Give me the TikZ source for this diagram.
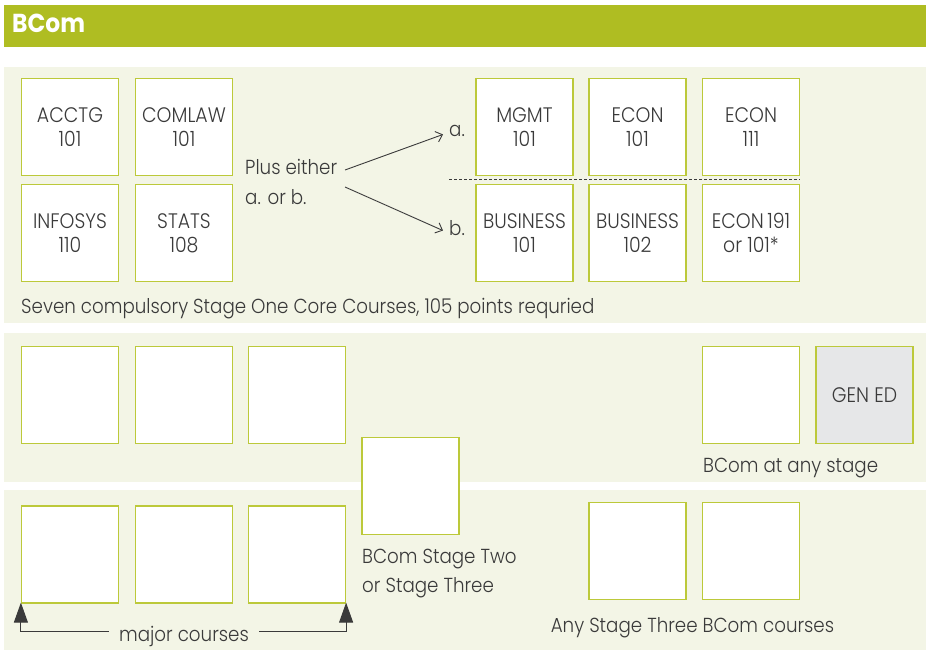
\documentclass[tikz,border=0pt]{standalone}
\usepackage{fontspec}
\setmainfont{Poppins}[UprightFont=* Light, BoldFont=* Bold, FakeStretch=0.9]
\usetikzlibrary{arrows.meta,positioning}
\definecolor{hdr}{HTML}{AFBD22}
\definecolor{pnl}{HTML}{F3F5E6}
\definecolor{bdr}{HTML}{BCC93A}
\definecolor{txt}{HTML}{3A3A3A}
\definecolor{gen}{HTML}{E6E7E8}
\tikzset{
  course/.style={draw=bdr, line width=1.2pt, fill=white, minimum width=97pt, minimum height=97pt, inner sep=0pt, align=center, text=txt, font=\fontsize{21}{24}\selectfont},
  lbl/.style={text=txt, font=\fontsize{20.3}{29}\selectfont, inner sep=0pt, align=left},
  panel/.style={fill=pnl, draw=none},
  majorarrow/.style={draw=txt, line width=1pt, -{Triangle[length=20pt,width=14pt]}}
}
\begin{document}
\begin{tikzpicture}[x=1pt,y=-1pt]
\useasboundingbox (0,0) rectangle (926,650);
\fill[white] (0,0) rectangle (926,650);
% header
\fill[hdr] (4,5) rectangle (926,47);
\node[anchor=base west, inner sep=0pt, text=white, font=\fontsize{26}{30}\selectfont\bfseries] (title) at (12,33) {BCom};
% panels
\fill[panel] (4,67) rectangle (926,323);
\fill[panel] (4,333) rectangle (926,482);
\fill[panel] (4,490) rectangle (926,650);
% panel 1
\node[course] (acctg) at (70,127) {ACCTG\\101};
\node[course] (comlaw) at (184,127) {COMLAW\\101};
\node[course] (infosys) at (70,233) {INFOSYS\\110};
\node[course] (stats) at (184,233) {STATS\\108};
\node[course] (mgmt) at (524.5,127) {MGMT\\101};
\node[course] (econa) at (637.5,127) {ECON\\101};
\node[course] (econb) at (751,127) {ECON\\111};
\node[course] (bus1) at (524.5,233) {BUSINESS\\101};
\node[course] (bus2) at (637.5,233) {BUSINESS\\102};
\node[course] (econc) at (751,233) {ECON\,191\\or 101*};
\node[lbl, anchor=base west] (plus) at (245,204) {Plus either\\a. or b.};
\node[lbl, anchor=base west] (opta) at (449,137) {a.};
\node[lbl, anchor=base west] (optb) at (449,235) {b.};
\coordinate (pa) at (345,170);
\coordinate (pb) at (345,187);
\draw[txt, line width=0.9pt, -{Straight Barb[length=6pt,width=11pt]}] (pa) -- ([xshift=-6pt,yshift=-3pt]opta.west);
\draw[txt, line width=0.9pt, -{Straight Barb[length=6pt,width=11pt]}] (pb) -- ([xshift=-6pt,yshift=-3pt]optb.west);
\coordinate (dl) at (449,179.8);
\coordinate (dr) at (800,179.8);
\draw[txt, line width=1pt, dash pattern=on 3pt off 2pt] (dl) -- (dr);
\node[lbl, anchor=base west] (cap1) at (21,313) {Seven compulsory Stage One Core Courses, 105 points requried};
% panel 2
\node[course] (m1) at (70,395) {};
\node[course] (m2) at (184,395) {};
\node[course] (m3) at (297,395) {};
\node[course] (any) at (751,395) {};
\node[course, fill=gen] (gened) at (864.5,395) {GEN ED};
\node[lbl, anchor=base west] (cap2) at (703,472) {BCom at any stage};
% middle
\node[course] (mid) at (410.5,486) {};
\node[lbl, anchor=base west] (cap3) at (362,592.7) {BCom Stage Two\\or Stage Three};
% panel 3
\node[course] (n1) at (70,554.5) {};
\node[course] (n2) at (184,554.5) {};
\node[course] (n3) at (297,554.5) {};
\node[course] (t1) at (637.5,551) {};
\node[course] (t2) at (751,551) {};
\node[lbl, anchor=base] (cap4) at (692.5,632) {Any Stage Three BCom courses};
\node[lbl, anchor=base, inner xsep=10pt] (mc) at (184,641) {major courses};
\coordinate (ml) at (mc.west |- 0,631);
\coordinate (mr) at (mc.east |- 0,631);
\draw[majorarrow] (ml) -| ([yshift=1pt]n1.south west);
\draw[majorarrow] (mr) -| ([yshift=1pt]n3.south east);
\end{tikzpicture}
\end{document}
